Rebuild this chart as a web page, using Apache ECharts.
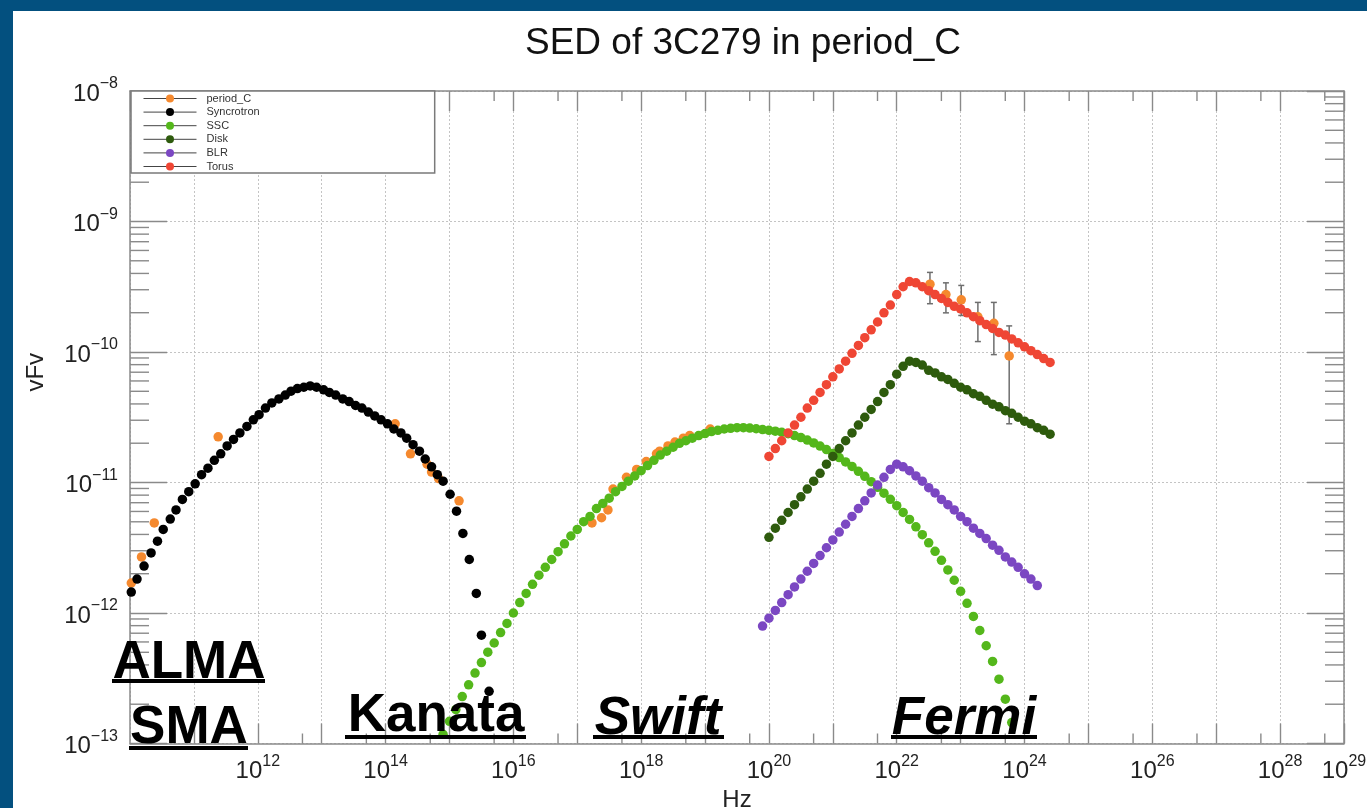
<!DOCTYPE html>
<html>
<head>
<meta charset="utf-8">
<script src="https://cdn.jsdelivr.net/npm/echarts@6/dist/echarts.min.js"></script>
<style>
html,body{margin:0;padding:0;background:#fff;}
#chart{width:1367px;height:808px;}
</style>
</head>
<body>
<div id="chart"></div>
<script>
// All values are log10: frequency (Hz) and nuFnu
const titleText = 'SED of 3C279 in period_C';
const seriesNames = ['period_C', 'Syncrotron', 'SSC', 'Disk', 'BLR', 'Torus'];
const xTickExps = [12, 14, 16, 18, 20, 22, 24, 26, 28, 29];
const yTickExps = [-13, -12, -11, -10, -9, -8];

const pcE = [10.02, 10.18, 10.38, 11.38, 14.15, 14.39, 14.65, 14.72, 14.83, 15.15,
  17.23, 17.38, 17.48, 17.56, 17.77, 17.93, 18.08, 18.24, 18.29, 18.42, 18.53, 18.66, 18.76, 19.08,
  22.52, 22.77, 23.01, 23.27, 23.52, 23.76];
const pcL = [-11.77, -11.57, -11.31, -10.65, -10.55, -10.78, -10.86, -10.92, -10.97, -11.14,
  -11.31, -11.27, -11.21, -11.05, -10.96, -10.90, -10.84, -10.78, -10.76, -10.72, -10.69, -10.66, -10.64, -10.59,
  -9.48, -9.56, -9.60, -9.73, -9.78, -10.03];
const pcHi = [null, null, null, null, null, null, null, null, null, null,
  null, null, null, null, null, null, null, null, null, null, null, null, null, null,
  -9.39, -9.47, -9.49, -9.62, -9.62, -9.80];
const pcLo = [null, null, null, null, null, null, null, null, null, null,
  null, null, null, null, null, null, null, null, null, null, null, null, null, null,
  -9.63, -9.70, -9.72, -9.92, -10.02, -10.55];

const syncE = [10.02, 10.11, 10.22, 10.33, 10.43, 10.52, 10.63, 10.72, 10.82, 10.92,
  11.02, 11.12, 11.22, 11.32, 11.42, 11.52, 11.62, 11.72, 11.83, 11.93,
  12.02, 12.12, 12.22, 12.33, 12.43, 12.52, 12.62, 12.72, 12.82, 12.92,
  13.03, 13.12, 13.22, 13.33, 13.43, 13.53, 13.63, 13.73, 13.83, 13.93,
  14.03, 14.13, 14.24, 14.33, 14.43, 14.53, 14.62, 14.72, 14.81, 14.90,
  15.01, 15.11, 15.21, 15.31, 15.42, 15.50, 15.62];
const syncL = [-11.84, -11.74, -11.64, -11.54, -11.45, -11.36, -11.28, -11.21, -11.13, -11.07,
  -11.01, -10.94, -10.89, -10.83, -10.78, -10.72, -10.67, -10.62, -10.57, -10.52,
  -10.48, -10.43, -10.39, -10.36, -10.33, -10.30, -10.28, -10.27, -10.26, -10.27,
  -10.29, -10.31, -10.33, -10.36, -10.38, -10.41, -10.43, -10.46, -10.49, -10.52,
  -10.55, -10.59, -10.62, -10.66, -10.71, -10.76, -10.82, -10.88, -10.94, -10.99,
  -11.09, -11.22, -11.39, -11.59, -11.85, -12.17, -12.60];

const sscE = [14.9, 15.0, 15.1, 15.2, 15.3, 15.4, 15.5, 15.6, 15.7, 15.8,
  15.9, 16.0, 16.1, 16.2, 16.3, 16.4, 16.5, 16.6, 16.7, 16.8,
  16.9, 17.0, 17.1, 17.2, 17.3, 17.4, 17.5, 17.6, 17.7, 17.8,
  17.9, 18.0, 18.1, 18.2, 18.3, 18.4, 18.5, 18.6, 18.7, 18.8,
  18.9, 19.0, 19.1, 19.2, 19.3, 19.4, 19.5, 19.6, 19.7, 19.8,
  19.9, 20.0, 20.1, 20.2, 20.3, 20.4, 20.5, 20.6, 20.7, 20.8,
  20.9, 21.0, 21.1, 21.2, 21.3, 21.4, 21.5, 21.6, 21.7, 21.8,
  21.9, 22.0, 22.1, 22.2, 22.3, 22.4, 22.5, 22.6, 22.7, 22.8,
  22.9, 23.0, 23.1, 23.2, 23.3, 23.4, 23.5, 23.6, 23.7, 23.8];
const sscL = [-12.93, -12.83, -12.74, -12.64, -12.55, -12.46, -12.38, -12.30, -12.23, -12.15,
  -12.08, -12.00, -11.92, -11.85, -11.78, -11.71, -11.65, -11.59, -11.53, -11.47,
  -11.41, -11.36, -11.30, -11.26, -11.20, -11.16, -11.12, -11.07, -11.03, -10.99,
  -10.95, -10.91, -10.87, -10.83, -10.79, -10.76, -10.73, -10.70, -10.68, -10.66,
  -10.64, -10.625, -10.61, -10.60, -10.59, -10.585, -10.58, -10.58, -10.583, -10.588,
  -10.594, -10.60, -10.607, -10.615, -10.626, -10.64, -10.656, -10.675, -10.697, -10.721,
  -10.748, -10.778, -10.809, -10.842, -10.877, -10.914, -10.953, -10.994, -11.037, -11.082,
  -11.129, -11.178, -11.229, -11.283, -11.34, -11.40, -11.462, -11.527, -11.596, -11.67,
  -11.749, -11.834, -11.926, -12.026, -12.134, -12.251, -12.371, -12.507, -12.66, -12.84];

const diskE = [20.0, 20.1, 20.2, 20.3, 20.4, 20.5, 20.6, 20.7, 20.8, 20.9,
  21.0, 21.1, 21.2, 21.3, 21.4, 21.5, 21.6, 21.7, 21.8, 21.9,
  22.0, 22.1, 22.2, 22.3, 22.4, 22.5, 22.6, 22.7, 22.8, 22.9,
  23.0, 23.1, 23.2, 23.3, 23.4, 23.5, 23.6, 23.7, 23.8, 23.9,
  24.0, 24.1, 24.2, 24.3, 24.4];
const diskL = [-11.42, -11.35, -11.29, -11.23, -11.17, -11.11, -11.05, -10.99, -10.93, -10.86,
  -10.80, -10.74, -10.68, -10.62, -10.56, -10.50, -10.44, -10.38, -10.31, -10.25,
  -10.17, -10.11, -10.07, -10.08, -10.10, -10.14, -10.16, -10.19, -10.21, -10.24,
  -10.27, -10.29, -10.32, -10.34, -10.37, -10.40, -10.42, -10.45, -10.47, -10.50,
  -10.53, -10.55, -10.58, -10.60, -10.63];

const blrE = [19.9, 20.0, 20.1, 20.2, 20.3, 20.4, 20.5, 20.6, 20.7, 20.8,
  20.9, 21.0, 21.1, 21.2, 21.3, 21.4, 21.5, 21.6, 21.7, 21.8,
  21.9, 22.0, 22.1, 22.2, 22.3, 22.4, 22.5, 22.6, 22.7, 22.8,
  22.9, 23.0, 23.1, 23.2, 23.3, 23.4, 23.5, 23.6, 23.7, 23.8,
  23.9, 24.0, 24.1, 24.2];
const blrL = [-12.10, -12.04, -11.98, -11.92, -11.86, -11.80, -11.74, -11.68, -11.62, -11.56,
  -11.50, -11.44, -11.38, -11.32, -11.26, -11.20, -11.14, -11.08, -11.02, -10.96,
  -10.90, -10.86, -10.88, -10.91, -10.95, -10.99, -11.04, -11.08, -11.13, -11.17,
  -11.21, -11.26, -11.30, -11.35, -11.39, -11.43, -11.48, -11.52, -11.57, -11.61,
  -11.65, -11.70, -11.74, -11.79];

const torE = [20.0, 20.1, 20.2, 20.3, 20.4, 20.5, 20.6, 20.7, 20.8, 20.9,
  21.0, 21.1, 21.2, 21.3, 21.4, 21.5, 21.6, 21.7, 21.8, 21.9,
  22.0, 22.1, 22.2, 22.3, 22.4, 22.5, 22.6, 22.7, 22.8, 22.9,
  23.0, 23.1, 23.2, 23.3, 23.4, 23.5, 23.6, 23.7, 23.8, 23.9,
  24.0, 24.1, 24.2, 24.3, 24.4];
const torL = [-10.80, -10.74, -10.68, -10.62, -10.56, -10.50, -10.43, -10.37, -10.31, -10.25,
  -10.19, -10.13, -10.07, -10.01, -9.95, -9.89, -9.83, -9.77, -9.70, -9.64,
  -9.56, -9.50, -9.46, -9.47, -9.50, -9.53, -9.56, -9.59, -9.62, -9.65,
  -9.67, -9.70, -9.73, -9.76, -9.79, -9.82, -9.85, -9.87, -9.90, -9.93,
  -9.96, -9.99, -10.02, -10.05, -10.08];

const annotations = [
  {text: 'ALMA', italic: false}, {text: 'SMA', italic: false}, {text: 'Kanata', italic: false},
  {text: 'Swift', italic: true}, {text: 'Fermi', italic: true}
];

const colors = {period_C: '#f5892e', Syncrotron: '#000000', SSC: '#54b71b', Disk: '#2e5b0d', BLR: '#7b47c2', Torus: '#ef4634'};
const FONT = '"Liberation Sans", Arial, Helvetica, sans-serif';
const X_MIN = 10, X_MAX = 29, Y_MIN = -13, Y_MAX = -8;

function pairs(xs, ys) { return xs.map((x, i) => [x, ys[i]]); }

// minor tick positions (axis construction)
const minorTicks = [];
for (let n = X_MIN; n < X_MAX; n++) minorTicks.push([n + Math.log10(5), 0]);
for (let n = Y_MIN; n < Y_MAX; n++) for (let k = 2; k <= 9; k++) minorTicks.push([n + Math.log10(k), 1]);

const errData = [];
pcE.forEach((e, i) => { if (pcHi[i] != null) errData.push([e, pcLo[i], pcHi[i]]); });

const tickStyle = {stroke: '#8a8a8a', lineWidth: 1.4};

function renderMinor(params, api) {
  const cs = params.coordSys;
  const v = api.value(0), kind = api.value(1);
  if (kind === 0) {
    const px = api.coord([v, Y_MIN])[0];
    return {type: 'group', children: [
      {type: 'line', shape: {x1: px, y1: cs.y + cs.height, x2: px, y2: cs.y + cs.height - 10}, style: tickStyle},
      {type: 'line', shape: {x1: px, y1: cs.y, x2: px, y2: cs.y + 10}, style: tickStyle}
    ]};
  }
  const py = api.coord([X_MIN, v])[1];
  return {type: 'group', children: [
    {type: 'line', shape: {x1: cs.x, y1: py, x2: cs.x + 19, y2: py}, style: tickStyle},
    {type: 'line', shape: {x1: cs.x + cs.width - 19, y1: py, x2: cs.x + cs.width, y2: py}, style: tickStyle}
  ]};
}

function renderErr(params, api) {
  const e = api.value(0);
  const top = api.coord([e, api.value(2)]);
  const bot = api.coord([e, api.value(1)]);
  const st = {stroke: '#6e6e6e', lineWidth: 1.5};
  return {type: 'group', children: [
    {type: 'line', shape: {x1: top[0], y1: top[1], x2: bot[0], y2: bot[1]}, style: st},
    {type: 'line', shape: {x1: top[0] - 3, y1: top[1], x2: top[0] + 3, y2: top[1]}, style: st},
    {type: 'line', shape: {x1: bot[0] - 3, y1: bot[1], x2: bot[0] + 3, y2: bot[1]}, style: st}
  ]};
}

function pointSeries(name, xs, ys, z) {
  return {
    name: name, type: 'line', data: pairs(xs, ys), symbol: 'circle', symbolSize: 9.5,
    showSymbol: true, lineStyle: {opacity: 0, width: 0}, itemStyle: {color: colors[name]},
    silent: true, z: z, emphasis: {disabled: true}
  };
}

const richX = {
  b: {fontSize: 24, color: '#222', fontFamily: FONT, lineHeight: 30, verticalAlign: 'bottom'},
  s: {fontSize: 16, color: '#222', fontFamily: FONT, lineHeight: 20, verticalAlign: 'top'}
};

const chart = echarts.init(document.getElementById('chart'), null, {renderer: 'canvas'});
const annoFont = (it) => (it.italic ? 'italic ' : '') + 'bold 53px ' + FONT;
const annoPos = [[189, 663, 112, 679, 153], [189, 728, 129, 746, 119], [436, 716, 345, 735, 181], [658, 719, 593, 735, 131], [964, 719, 891, 735, 146]];
const graphics = [
  {type: 'rect', shape: {x: 0, y: 0, width: 13, height: 808}, style: {fill: '#03507f'}, z: 100},
  {type: 'rect', shape: {x: 0, y: 0, width: 1367, height: 11}, style: {fill: '#03507f'}, z: 100}
];
annotations.forEach((it, i) => {
  const p = annoPos[i];
  graphics.push({type: 'text', z: 100, style: {text: it.text, x: p[0], y: p[1], font: annoFont(it), fill: '#000',
    align: 'center', verticalAlign: 'middle', textAlign: 'center', textVerticalAlign: 'middle'}});
  graphics.push({type: 'rect', z: 100, shape: {x: p[2], y: p[3], width: p[4], height: 4}, style: {fill: '#000'}});
});

const option = {
  animation: false,
  backgroundColor: '#fff',
  title: {text: titleText, left: 738, textAlign: 'center', top: 20,
    textStyle: {fontFamily: FONT, fontSize: 37, fontWeight: 'normal', color: '#111'}},
  grid: {left: 130, right: 23, top: 91, bottom: 64.5, containLabel: false, outerBoundsMode: 'none', show: false},
  legend: {
    data: seriesNames, orient: 'vertical', left: 131, top: 91,
    padding: [1, 175, 0, 12], itemWidth: 53, itemHeight: 10, itemGap: 0.6,
    backgroundColor: '#fff', borderColor: '#7a7a7a', borderWidth: 1.5, borderRadius: 0,
    textStyle: {fontFamily: FONT, fontSize: 11, color: '#333', lineHeight: 13, padding: [0, 0, 0, 5]},
    lineStyle: {color: '#444', width: 1, opacity: 1, type: 'solid'},
    selectedMode: false, z: 10
  },
  xAxis: [{
    type: 'value', min: X_MIN, max: X_MAX, interval: 1, position: 'bottom',
    name: 'Hz', nameLocation: 'middle', nameGap: 40,
    nameTextStyle: {fontFamily: FONT, fontSize: 24, color: '#222'},
    axisLine: {show: true, lineStyle: {color: '#8a8a8a', width: 1.5}},
    axisTick: {show: true, inside: true, length: 20, lineStyle: {color: '#8a8a8a', width: 1.4}},
    splitLine: {show: true, lineStyle: {color: '#c4c4c4', type: [2, 2], width: 1}},
    axisLabel: {margin: 10, showMinLabel: false, showMaxLabel: true, rich: richX,
      formatter: v => (xTickExps.indexOf(v) >= 0 ? '{b|10}{s|' + v + '}' : '')}
  }, {
    type: 'value', min: X_MIN, max: X_MAX, interval: 1, position: 'top',
    axisLine: {show: true, lineStyle: {color: '#8a8a8a', width: 1.5}},
    axisTick: {show: true, inside: true, length: 20, lineStyle: {color: '#8a8a8a', width: 1.4}},
    splitLine: {show: false}, axisLabel: {show: false}
  }],
  yAxis: [{
    type: 'value', min: Y_MIN, max: Y_MAX, interval: 1, position: 'left',
    name: 'vFv', nameLocation: 'middle', nameGap: 82,
    nameTextStyle: {fontFamily: FONT, fontSize: 24, color: '#222', padding: [0, 0, 0, 90]},
    axisLine: {show: true, lineStyle: {color: '#8a8a8a', width: 1.5}},
    axisTick: {show: true, inside: true, length: 37, lineStyle: {color: '#8a8a8a', width: 1.4}},
    splitLine: {show: true, lineStyle: {color: '#c4c4c4', type: [2, 2], width: 1}},
    axisLabel: {margin: 12, rich: richX,
      formatter: v => (yTickExps.indexOf(v) >= 0 ? '{b|10}{s|\u2212' + (-v) + '}' : '')}
  }, {
    type: 'value', min: Y_MIN, max: Y_MAX, interval: 1, position: 'right',
    axisLine: {show: true, lineStyle: {color: '#8a8a8a', width: 1.5}},
    axisTick: {show: true, inside: true, length: 37, lineStyle: {color: '#8a8a8a', width: 1.4}},
    splitLine: {show: false}, axisLabel: {show: false}
  }],
  graphic: graphics,
  series: [
    {type: 'custom', name: 'minorTicks', data: minorTicks, renderItem: renderMinor, silent: true, z: 3, clip: false},
    {type: 'custom', name: 'errors', data: errData, renderItem: renderErr, silent: true, z: 1,
      encode: {x: 0, y: [1, 2]}},
    pointSeries('period_C', pcE, pcL, 2),
    pointSeries('Syncrotron', syncE, syncL, 3),
    pointSeries('SSC', sscE, sscL, 3),
    pointSeries('Disk', diskE, diskL, 3),
    pointSeries('BLR', blrE, blrL, 3),
    pointSeries('Torus', torE, torL, 3)
  ]
};
chart.setOption(option);
</script>
</body>
</html>
